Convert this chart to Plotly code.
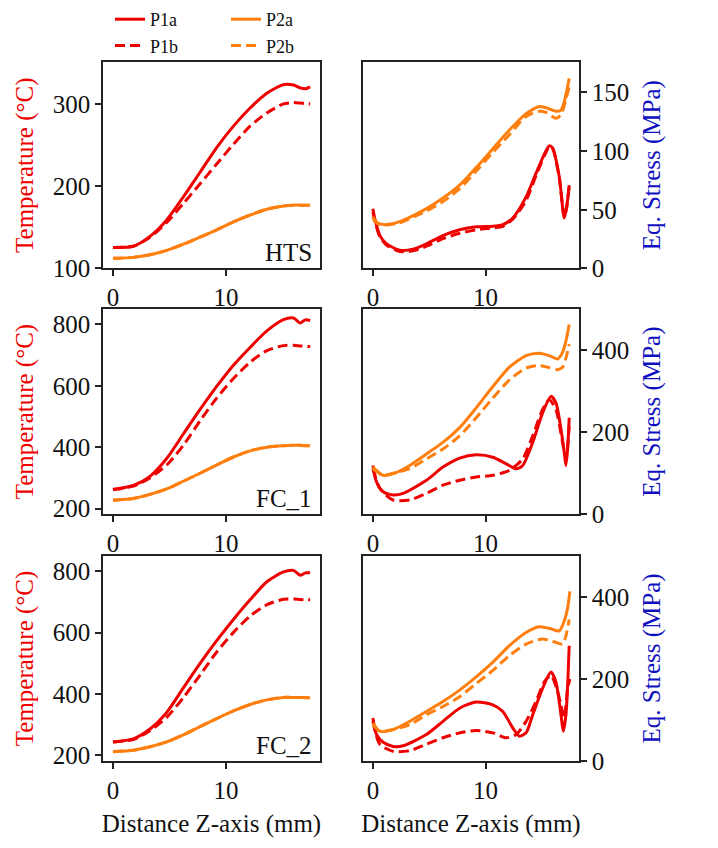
import plotly.graph_objects as go

# ---------------- DATA ----------------
panel_labels = ["HTS", "FC_1", "FC_2"]
series_names = ["P1a", "P1b", "P2a", "P2b"]

# Temperature (left column), common distance grid (mm)
temp_x = [0, 1.8, 3.27, 4.75, 6.22, 7.7, 9.17, 10.65, 12.12, 13.6, 15.07, 15.96, 16.55, 17.0, 17.43]

hts_temp_p1a = [125.5, 127, 139, 159, 187, 217, 247, 273, 295, 313, 323.5, 323, 319.5, 318.5, 320.7]
hts_temp_p1b = [125.5, 127, 138, 156, 179, 203, 227, 251, 273, 289, 300, 301.6, 301, 300.5, 300]
hts_temp_p2a = [112.4, 113.5, 116.7, 122, 129.5, 138, 147, 156.6, 165, 172, 176, 177, 177, 177, 177]
hts_temp_p2b = [112.4, 113.5, 116.7, 122, 129.5, 138, 147, 156.6, 165, 172, 176, 177, 177, 177, 177]

fc1_temp_p1a = [262, 275, 305, 363, 443, 523, 598, 667, 725, 779, 816, 821, 805, 815, 813]
fc1_temp_p1b = [262, 273, 300, 342, 406, 486, 560, 624, 677, 715, 731, 732, 730, 729, 728]
fc1_temp_p2a = [227, 233, 246, 264, 289, 315, 342, 368, 388, 400, 405, 406, 406, 405, 405]
fc1_temp_p2b = [227, 233, 246, 264, 289, 315, 342, 368, 388, 400, 405, 406, 406, 405, 405]

fc2_temp_p1a = [244, 254, 286, 340, 420, 500, 574, 643, 707, 766, 798, 803, 787, 795, 795]
fc2_temp_p1b = [244, 252, 280, 324, 388, 462, 537, 601, 654, 691, 709, 710, 708, 707, 707]
fc2_temp_p2a = [212, 217, 228, 244, 267, 294, 320, 345, 366, 381, 389, 389, 389, 388, 388]
fc2_temp_p2b = [212, 217, 228, 244, 267, 294, 320, 345, 366, 381, 389, 389, 389, 388, 388]

# Equivalent stress (right column)
hts_s_p1_x = [0, 0.18, 0.62, 1.21, 2.39, 3.57, 4.75, 6.22, 7.7, 9.17, 10.65, 11.53, 12.42, 13.6, 14.48, 15.22, 15.66, 15.96, 16.55, 16.99, 17.2, 17.43]
hts_s_p1a = [51, 42, 28, 21, 15.6, 16.5, 21, 28, 33, 35.5, 36, 37.4, 43, 61, 81, 97.5, 104.5, 102.5, 78, 43, 52, 71]
hts_s_p1b = [48, 40, 27, 20, 14.5, 15, 19, 25.4, 30, 33, 34.6, 36, 42, 58, 79, 96, 103.5, 102, 77, 44, 52, 70]
hts_s_p2_x = [0, 0.32, 0.62, 1.21, 2.39, 4.75, 6.22, 7.7, 9.17, 10.65, 12.12, 13.6, 14.78, 15.37, 16.25, 16.7, 16.99, 17.43]
hts_s_p2a = [44, 39.5, 38, 37.4, 40, 51, 60, 71, 86, 102, 118, 132, 138, 137, 134, 135, 142, 162]
hts_s_p2b = [43, 39, 37.5, 37, 39, 49, 57, 68, 83, 99, 114, 129.6, 134, 133, 128, 131, 139, 155]

fc1_s_p1a_x = [0, 0.32, 0.91, 1.8, 2.68, 4.75, 6.22, 7.7, 9.17, 10.65, 11.83, 12.71, 13.3, 14.19, 15.07, 15.81, 16.25, 16.7, 16.99, 17.14, 17.29, 17.43]
fc1_s_p1a = [119, 79, 55, 47, 51, 83, 115, 137, 145, 139, 123, 111, 119, 175, 247, 287, 271, 207, 151, 119, 159, 235]
fc1_s_p1b_x = [0, 0.62, 1.8, 3.27, 4.75, 6.22, 7.7, 9.17, 10.65, 12.12, 13.3, 14.19, 15.07, 15.66, 16.25, 16.84, 17.14, 17.43]
fc1_s_p1b = [111, 63, 35, 35, 51, 71, 83, 91, 95, 107, 135, 191, 255, 279, 255, 175, 135, 215]
fc1_s_p2_x = [0, 0.91, 1.8, 3.27, 4.75, 6.22, 7.7, 9.17, 10.65, 12.12, 13.6, 14.78, 15.66, 16.4, 16.84, 17.14, 17.43]
fc1_s_p2a = [115, 95, 99, 119, 147, 175, 211, 259, 311, 358, 386, 392, 386, 378, 394, 422, 462]
fc1_s_p2b = [111, 95, 100, 111, 135, 159, 191, 235, 283, 327, 356, 362, 357, 352, 358, 380, 414]

fc2_s_p1a_x = [0, 0.32, 0.91, 1.8, 2.68, 4.75, 6.22, 7.7, 9.17, 10.65, 11.53, 12.42, 13.0, 13.6, 14.19, 15.07, 15.81, 16.25, 16.7, 16.9, 17.14, 17.43]
fc2_s_p1a = [105, 65, 46, 36, 37.5, 65, 97, 129, 144, 137, 121, 81, 61, 69, 113, 177, 217, 193, 113, 73, 113, 281]
fc2_s_p1b_x = [0, 0.62, 1.8, 3.27, 4.75, 6.22, 7.7, 9.17, 10.65, 11.83, 12.71, 13.6, 14.48, 15.22, 15.81, 16.4, 16.7, 16.99, 17.29, 17.49]
fc2_s_p1b = [97, 41, 24, 25.5, 41.5, 57, 69, 75, 69, 57, 65, 97, 145, 193, 209, 169, 137, 105, 177, 200]
fc2_s_p2a_x = [0, 0.62, 1.8, 3.27, 4.75, 6.22, 7.7, 9.17, 10.65, 12.12, 13.6, 14.78, 15.81, 16.55, 16.99, 17.29, 17.49]
fc2_s_p2a = [93, 73, 77, 97, 121, 145, 173, 205, 241, 281, 313, 327, 322, 317, 341, 373, 413]
fc2_s_p2b_x = [0, 0.62, 3.27, 4.75, 6.22, 7.7, 9.17, 10.65, 12.12, 13.6, 15.07, 16.25, 16.84, 17.14, 17.43]
fc2_s_p2b = [89, 73, 89, 113, 133, 157, 189, 221, 257, 285, 297, 289, 285, 305, 345]

temp_ranges = [[100, 351], [181, 851], [181, 851]]
temp_ticks = [[100, 200, 300], [200, 400, 600, 800], [200, 400, 600, 800]]
stress_ranges = [[0, 176], [0, 500], [0, 500]]
stress_ticks = [[0, 50, 100, 150], [0, 200, 400], [0, 200, 400]]
x_range = [-0.88, 18.3]
x_ticks = [0, 10]

# ---------------- STYLE ----------------
RED = "#ee0000"
ORANGE = "#ff7f0e"
BLUE = "#1010c0"
FONT = "Liberation Serif, Times New Roman, serif"
W, H = 718, 848

temp_rows = [
    (temp_x, hts_temp_p1a, temp_x, hts_temp_p1b, temp_x, hts_temp_p2a, temp_x, hts_temp_p2b),
    (temp_x, fc1_temp_p1a, temp_x, fc1_temp_p1b, temp_x, fc1_temp_p2a, temp_x, fc1_temp_p2b),
    (temp_x, fc2_temp_p1a, temp_x, fc2_temp_p1b, temp_x, fc2_temp_p2a, temp_x, fc2_temp_p2b),
]
stress_rows = [
    (hts_s_p1_x, hts_s_p1a, hts_s_p1_x, hts_s_p1b, hts_s_p2_x, hts_s_p2a, hts_s_p2_x, hts_s_p2b),
    (fc1_s_p1a_x, fc1_s_p1a, fc1_s_p1b_x, fc1_s_p1b, fc1_s_p2_x, fc1_s_p2a, fc1_s_p2_x, fc1_s_p2b),
    (fc2_s_p1a_x, fc2_s_p1a, fc2_s_p1b_x, fc2_s_p1b, fc2_s_p2a_x, fc2_s_p2a, fc2_s_p2b_x, fc2_s_p2b),
]

styles = [
    (RED, "10px,5px", "legend"),
    (RED, "10px,5px", "legend"),
    (ORANGE, "solid", "legend2"),
    (ORANGE, "10px,5px", "legend2"),
]
styles[0] = (RED, "solid", "legend")

cols_px = [(103, 320), (363, 579)]
rows_px = [(63, 273), (314, 523), (565, 774)]

fig = go.Figure()
layout = {}
annotations = []

for r in range(3):
    for c in range(2):
        n = r * 2 + c + 1
        xa = "x" if n == 1 else f"x{n}"
        ya = "y" if n == 1 else f"y{n}"
        data = temp_rows[r] if c == 0 else stress_rows[r]
        for k in range(4):
            color, dash, leg = styles[k]
            fig.add_trace(go.Scatter(
                x=data[2 * k], y=data[2 * k + 1], mode="lines",
                name=series_names[k],
                line=dict(color=color, dash=dash, width=3, shape="spline", smoothing=0.7),
                xaxis=xa, yaxis=ya, legend=leg,
                showlegend=(n == 1),
            ))
        x0, x1 = cols_px[c]
        y0, y1 = rows_px[r]
        axis_common = dict(showline=True, linecolor="#222", linewidth=1.5, mirror=True,
                           ticks="outside", ticklen=6, tickwidth=1.5, tickcolor="#222",
                           showgrid=False, zeroline=False,
                           tickfont=dict(family=FONT, size=25, color="#111"))
        xk = "xaxis" if n == 1 else f"xaxis{n}"
        yk = "yaxis" if n == 1 else f"yaxis{n}"
        xd = dict(axis_common, domain=[x0 / W, x1 / W], range=x_range,
                  tickvals=x_ticks, anchor=ya)
        if r == 2:
            xd["title"] = dict(text="Distance Z-axis (mm)", font=dict(family=FONT, size=25, color="#111"), standoff=12)
        layout[xk] = xd
        if c == 0:
            yd = dict(axis_common, domain=[1 - y1 / H, 1 - y0 / H], range=temp_ranges[r],
                      tickvals=temp_ticks[r], anchor=xa, side="left",
                      title=dict(text="Temperature (°C)", font=dict(family=FONT, size=25, color=RED), standoff=12))
        else:
            yd = dict(axis_common, domain=[1 - y1 / H, 1 - y0 / H], range=stress_ranges[r],
                      tickvals=stress_ticks[r], anchor=xa, side="right",
                      title=dict(text="Eq. Stress (MPa)", font=dict(family=FONT, size=25, color=BLUE), standoff=14))
        layout[yk] = yd
    annotations.append(dict(text=panel_labels[r], xref="paper", yref="paper",
                            x=314 / W, y=1 - (rows_px[r][1] - 16) / H,
                            xanchor="right", yanchor="middle", showarrow=False,
                            font=dict(family=FONT, size=25, color="#111")))

fig.update_layout(
    **layout,
    width=W, height=H,
    margin=dict(l=0, r=0, t=0, b=0),
    paper_bgcolor="white", plot_bgcolor="white",
    annotations=annotations,
    legend=dict(x=110 / W, y=1 - 1 / H, xanchor="left", yanchor="top",
                font=dict(family=FONT, size=18, color="#111"), bgcolor="rgba(0,0,0,0)",
                tracegroupgap=0),
    legend2=dict(x=226 / W, y=1 - 1 / H, xanchor="left", yanchor="top",
                 font=dict(family=FONT, size=18, color="#111"), bgcolor="rgba(0,0,0,0)",
                 tracegroupgap=0),
)

fig.write_html("out.html")
